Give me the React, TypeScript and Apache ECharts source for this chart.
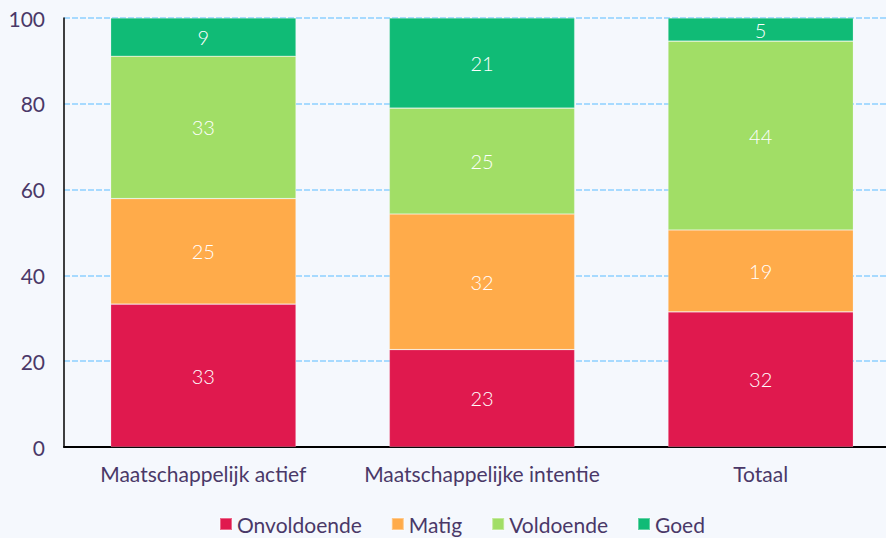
import React, { useEffect, useRef } from "react";
import * as echarts from "echarts";

const categories = ["Maatschappelijk actief", "Maatschappelijke intentie", "Totaal"];
const seriesNames = ["Onvoldoende", "Matig", "Voldoende", "Goed"];
const onvoldoende = [33.3, 22.7, 31.5];
const matig = [24.6, 31.6, 19.1];
const voldoende = [33.2, 24.7, 44.0];
const goed = [8.9, 21.0, 5.4];
const yTicks = [0, 20, 40, 60, 80, 100];

const colors = ["#e0194e", "#ffab4a", "#a1de66", "#10bb76"];
const textColor = "#4a3868";

export default function App() {
  const ref = useRef<HTMLDivElement>(null);
  useEffect(() => {
    const chart = echarts.init(ref.current!, null, { renderer: "svg" });
    const values = [onvoldoende, matig, voldoende, goed];
    chart.setOption({
      animation: false,
      backgroundColor: "#f5f8fd",
      textStyle: { fontFamily: "Lato" },
      grid: { left: 64, top: 18, right: 0, height: 429, containLabel: false },
      legend: {
        left: 214,
        top: 508,
        padding: [5, 5, 5, 5],
        icon: "rect",
        itemWidth: 12,
        itemHeight: 12,
        itemGap: 29,
        data: seriesNames,
        textStyle: { color: textColor, fontSize: 21, lineHeight: 22, fontFamily: "Lato" },
      },
      xAxis: {
        type: "category",
        data: categories,
        axisLine: { lineStyle: { color: "#000", width: 2 } },
        axisTick: { show: false },
        axisLabel: { color: textColor, fontSize: 21, margin: 16, fontFamily: "Lato", interval: 0 },
      },
      yAxis: {
        type: "value",
        min: yTicks[0],
        max: yTicks[yTicks.length - 1],
        interval: 20,
        axisLine: { show: true, lineStyle: { color: "#000", width: 1.5 } },
        axisTick: { show: false },
        axisLabel: { color: textColor, fontSize: 21, margin: 19, fontFamily: "Lato" },
        splitLine: { lineStyle: { color: "#8dcfff", type: [6, 2], width: 1.5 } },
      },
      series: seriesNames.map((name, i) => ({
        name,
        type: "bar",
        stack: "total",
        barWidth: "66.5%",
        data: values[i],
        itemStyle: { color: colors[i], borderColor: "rgba(255,255,255,0.35)", borderWidth: 0.6 },
        label: {
          show: true,
          position: "inside",
          color: "#fff",
          fontSize: 20,
          fontWeight: 300,
          fontFamily: "Lato",
          formatter: (p: any) => String(Math.round(p.value)),
        },
      })),
    });
    return () => chart.dispose();
  }, []);
  return (
    <div style={{ width: 886, height: 538, position: "absolute", left: 0, top: 0, overflow: "hidden" }}>
      <div ref={ref} style={{ width: 900, height: 538 }} />
    </div>
  );
}
